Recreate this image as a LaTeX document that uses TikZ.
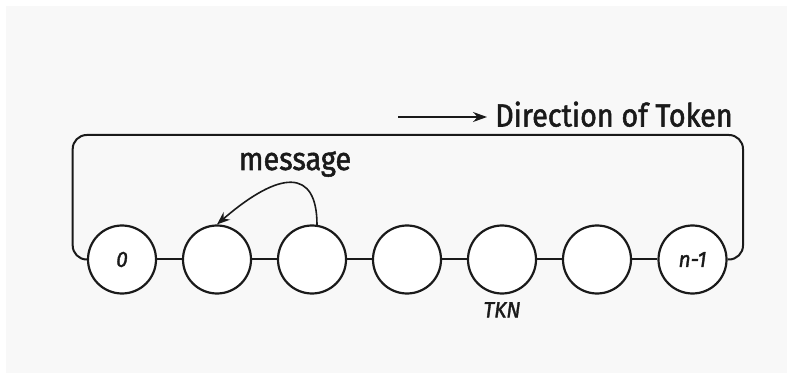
\documentclass[tikz,border=0pt]{standalone}
\usepackage{fontspec}
\setmainfont{Fira Sans}
\newfontfamily\lblfont[FakeStretch=0.9, FakeBold=1.6]{Fira Sans}
\newfontfamily\itfont[FakeStretch=0.95, FakeBold=1.6]{Fira Sans}
\usetikzlibrary{arrows.meta}
\definecolor{bggray}{HTML}{F8F8F8}
\definecolor{ink}{HTML}{1A1A1A}
\tikzset{
  station/.style={circle, draw=ink, line width=2.2pt, fill=white, minimum size=68pt, inner sep=0pt},
  link/.style={draw=ink, line width=2pt},
  ring/.style={draw=ink, line width=2pt, rounded corners=14pt},
  msgarrow/.style={draw=ink, line width=1.6pt, -{Stealth[length=13pt, width=10pt]}},
  dirarrow/.style={draw=ink, line width=1.6pt, -{Stealth[length=14pt, width=10pt]}},
  bigtext/.style={font=\lblfont\fontsize{32}{36}\selectfont, text=ink, inner sep=0pt},
  smalltext/.style={font=\itfont\itshape\fontsize{22}{24}\selectfont, text=ink, inner sep=0pt}
}
\begin{document}
\begin{tikzpicture}[x=1pt, y=-1pt]
\useasboundingbox (0,0) rectangle (792,379);
\fill[bggray] (6,6) rectangle (787,373);
% stations
\node[station] (c0) at (122,259.5) {};
\node[station] (c1) at (217,259.5) {};
\node[station] (c2) at (312,259.5) {};
\node[station] (c3) at (407,259.5) {};
\node[station] (c4) at (502,259.5) {};
\node[station] (c5) at (597,259.5) {};
\node[station] (c6) at (692.5,259.5) {};
\node[smalltext] (l0) at (c0) {0};
\node[smalltext] (l6) at (c6) {n-1};
\node[smalltext, anchor=north] (tkn) at (502,302) {TKN};
% links
\draw[link] (c0) -- (c1);
\draw[link] (c1) -- (c2);
\draw[link] (c2) -- (c3);
\draw[link] (c3) -- (c4);
\draw[link] (c4) -- (c5);
\draw[link] (c5) -- (c6);
% ring
\coordinate (rl) at (72.7,259.5);
\coordinate (rtl) at (72.7,135);
\coordinate (rtr) at (743,135);
\coordinate (rr) at (743,259.5);
\draw[ring] (c0.west) -- (rl) -- (rtl) -- (rtr) -- (rr) -- (c6.east);
% message
\node[bigtext, anchor=base] (msg) at (295,170) {message};
\coordinate (ms) at (317,225);
\draw[msgarrow] (ms) .. controls (317,168) and (280,170) .. (c1.north);
% direction
\node[bigtext, anchor=base west] (dir) at (495,126.5) {Direction of Token};
\coordinate (da) at (398,117);
\draw[dirarrow] (da) -- ([xshift=-8pt]dir.west |- da);
\end{tikzpicture}
\end{document}
